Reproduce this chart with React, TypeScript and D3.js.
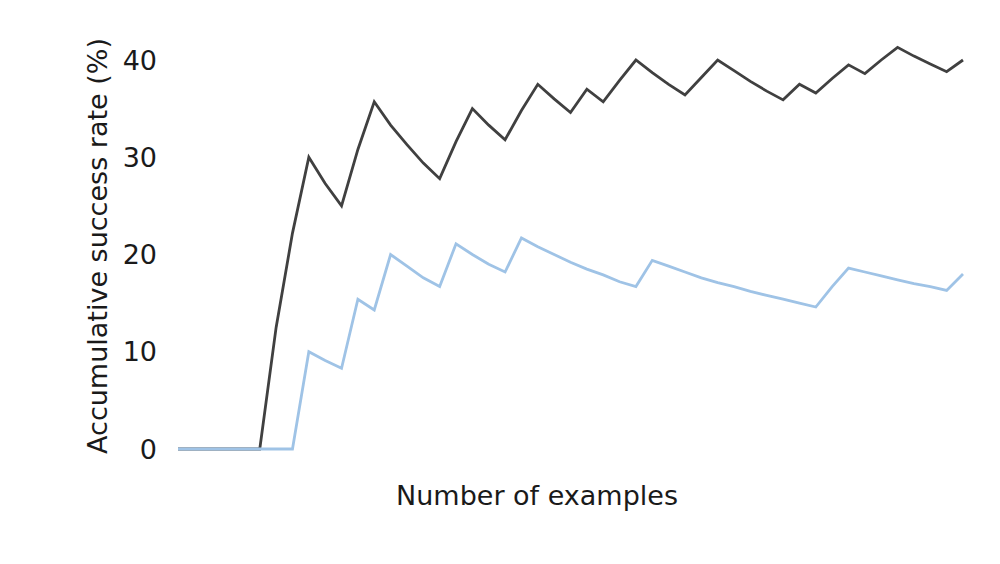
import * as d3 from 'd3';
import { useEffect, useRef } from 'react';

// number of examples seen so far
const examples = [
    2, 3, 4, 5, 6, 7, 8, 9, 10, 11, 12, 13, 14, 15, 16, 17, 18, 19, 20, 21, 22, 23, 24, 25, 26,
    27, 28, 29, 30, 31, 32, 33, 34, 35, 36, 37, 38, 39, 40, 41, 42, 43, 44, 45, 46, 47, 48, 49, 50,
];

// accumulative success rate (%) – dark series
const darkRates = [
    0, 0, 0, 0, 0, 0, 12.5, 22.2, 30, 27.3, 25, 30.8, 35.7, 33.3, 31.3, 29.4, 27.8, 31.6, 35, 33.3,
    31.8, 34.8, 37.5, 36, 34.6, 37, 35.7, 37.9, 40, 38.7, 37.5, 36.4, 38.2, 40, 38.9, 37.8, 36.8,
    35.9, 37.5, 36.6, 38.1, 39.5, 38.6, 40, 41.3, 40.4, 39.6, 38.8, 40,
];

// accumulative success rate (%) – light series
const lightRates = [
    0, 0, 0, 0, 0, 0, 0, 0, 10, 9.1, 8.3, 15.4, 14.3, 20, 18.8, 17.6, 16.7, 21.1, 20, 19, 18.2,
    21.7, 20.8, 20, 19.2, 18.5, 17.9, 17.2, 16.7, 19.4, 18.8, 18.2, 17.6, 17.1, 16.7, 16.2, 15.8,
    15.4, 15, 14.6, 16.7, 18.6, 18.2, 17.8, 17.4, 17, 16.7, 16.3, 18,
];

const yTicks = [0, 10, 20, 30, 40];

const width = 1000;
const height = 564;
const fontFamily = '"DejaVu Sans", Verdana, sans-serif';
const fontSize = 27;

const App = () => {
    const ref = useRef<SVGSVGElement | null>(null);

    useEffect(() => {
        const svg = d3.select(ref.current);
        svg.selectAll('*').remove();

        const xScale = d3.scaleLinear()
            .domain([examples[0], examples[examples.length - 1]])
            .range([178, 963]);

        const yScale = d3.scaleLinear()
            .domain([0, 40])
            .range([449, 60]);

        const line = d3.line<number>()
            .x((_d, i) => xScale(examples[i]))
            .y(d => yScale(d));

        svg.append('path')
            .attr('d', line(darkRates))
            .attr('fill', 'none')
            .attr('stroke', '#404040')
            .attr('stroke-width', 2.8);

        svg.append('path')
            .attr('d', line(lightRates))
            .attr('fill', 'none')
            .attr('stroke', '#9fc3e6')
            .attr('stroke-width', 2.8);

        // y tick labels, no axis line
        svg.append('g')
            .selectAll('text')
            .data(yTicks)
            .enter()
            .append('text')
            .attr('x', 157)
            .attr('y', d => yScale(d))
            .attr('dy', '0.36em')
            .attr('text-anchor', 'end')
            .attr('font-family', fontFamily)
            .attr('font-size', fontSize)
            .attr('fill', '#1a1a1a')
            .text(d => d);

        svg.append('text')
            .attr('transform', `translate(107, 246) rotate(-90)`)
            .attr('text-anchor', 'middle')
            .attr('font-family', fontFamily)
            .attr('font-size', fontSize)
            .attr('fill', '#1a1a1a')
            .text('Accumulative success rate (%)');

        svg.append('text')
            .attr('x', 537)
            .attr('y', 505)
            .attr('text-anchor', 'middle')
            .attr('font-family', fontFamily)
            .attr('font-size', fontSize)
            .attr('fill', '#1a1a1a')
            .text('Number of examples');
    }, []);

    return (
        <svg
            ref={ref}
            width={width}
            height={height}
            style={{ position: 'absolute', left: 0, top: 0, background: '#fff' }}
        />
    );
};

export default App;
